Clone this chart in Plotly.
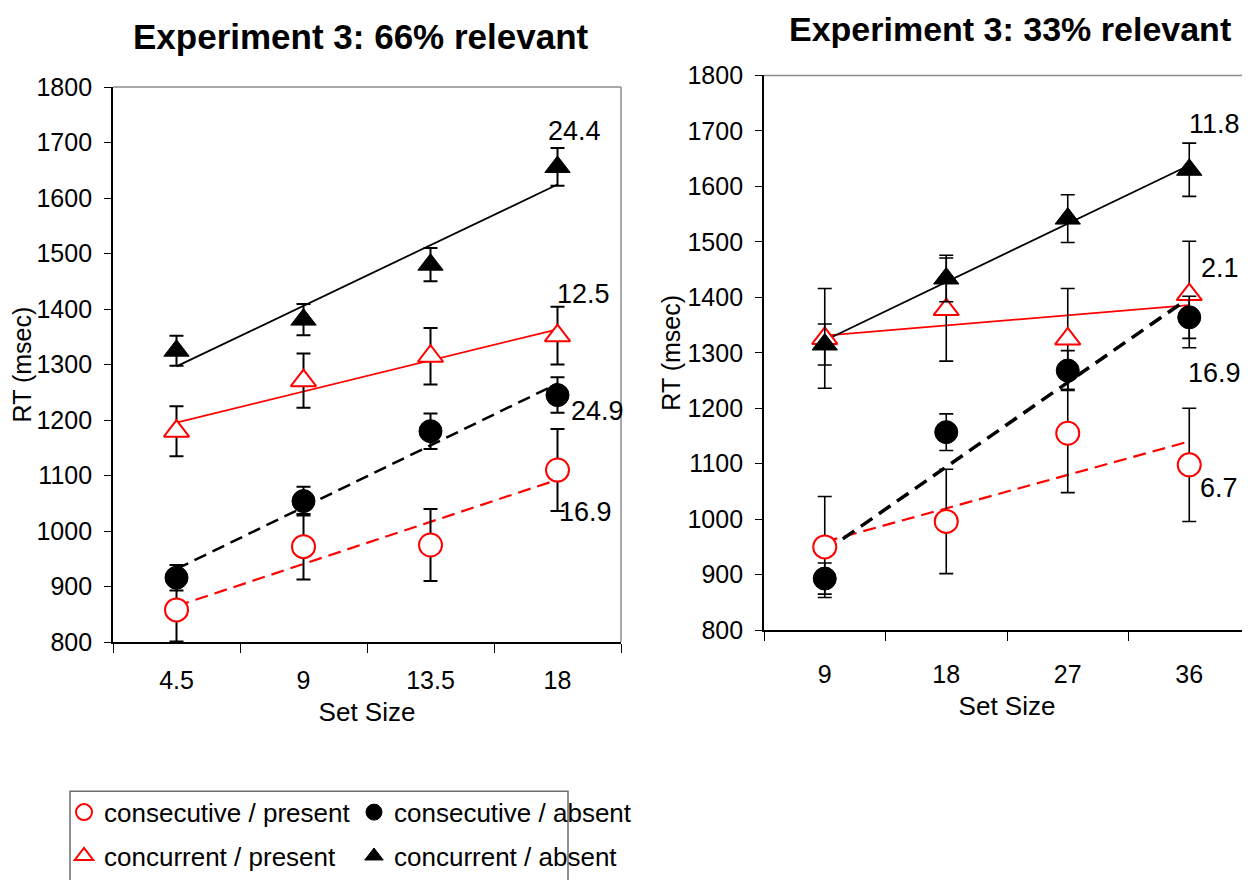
import numpy as np
import plotly.graph_objects as go

# ---------------- data ----------------
series_names = ["consecutive / present", "concurrent / present",
                "consecutive / absent", "concurrent / absent"]

# Experiment 3: 66% relevant
left_sizes = ["4.5", "9", "13.5", "18"]
left_size_values = [4.5, 9, 13.5, 18]
left_cons_present = [858, 972, 975, 1110]
left_cons_present_err = [57, 59, 65, 74]
left_conc_present = [1180, 1271, 1315, 1352]
left_conc_present_err = [45, 49, 51, 52]
left_cons_absent = [916, 1054, 1180, 1245]
left_cons_absent_err = [23, 26, 32, 32]
left_conc_absent = [1325, 1381, 1480, 1656]
left_conc_absent_err = [27, 28, 30, 34]
left_slope_labels = ["16.9", "12.5", "24.9", "24.4"]

# Experiment 3: 33% relevant
right_sizes = ["9", "18", "27", "36"]
right_size_values = [9, 18, 27, 36]
right_cons_present = [950, 996, 1155, 1098]
right_cons_present_err = [91, 94, 107, 102]
right_conc_present = [1326, 1378, 1325, 1405]
right_conc_present_err = [90, 93, 91, 96]
right_cons_absent = [893, 1157, 1268, 1364]
right_cons_absent_err = [28, 33, 36, 38]
right_conc_absent = [1315, 1434, 1542, 1630]
right_conc_absent_err = [37, 42, 43, 48]
right_slope_labels = ["6.7", "2.1", "16.9", "11.8"]

y_ticks = [800, 900, 1000, 1100, 1200, 1300, 1400, 1500, 1600, 1700, 1800]

# ---------------- styles / geometry ----------------
FONT = "Liberation Sans, Arial, sans-serif"
RED = "#FF0000"
PAGE_MARGIN = 8            # default body margin of the html page
W, H = 1250 - PAGE_MARGIN, 880 - PAGE_MARGIN


def px(x):   # page x pixel -> paper fraction
    return (x - PAGE_MARGIN) / W


def py(y):   # page y pixel -> paper fraction
    return 1 - (y - PAGE_MARGIN) / H


marker_styles = [
    dict(symbol="circle", size=23, color="white", line=dict(color=RED, width=2)),
    dict(symbol="triangle-up", size=22, color="white", line=dict(color=RED, width=2)),
    dict(symbol="circle", size=23, color="black", line=dict(color="black", width=1)),
    dict(symbol="triangle-up", size=22, color="black", line=dict(color="black", width=1)),
]
legend_ids = ["legend", "legend2", "legend", "legend2"]

panels = [
    dict(xa="x", ya="y", cats=left_sizes, vals=left_size_values,
         ys=[left_cons_present, left_conc_present, left_cons_absent, left_conc_absent],
         errs=[left_cons_present_err, left_conc_present_err, left_cons_absent_err, left_conc_absent_err],
         lines=[dict(color=RED, width=2.2, dash="13px,7px"),
                dict(color=RED, width=1.8),
                dict(color="black", width=2.5, dash="13px,7px"),
                dict(color="black", width=1.8)],
         err_thick=2, labels=left_slope_labels,
         label_pos=[(1035, 28), (1427, 26), (1217, 40), (1720, 17)],
         showlegend=True),
    dict(xa="x2", ya="y2", cats=right_sizes, vals=right_size_values,
         ys=[right_cons_present, right_conc_present, right_cons_absent, right_conc_absent],
         errs=[right_cons_present_err, right_conc_present_err, right_cons_absent_err, right_conc_absent_err],
         lines=[dict(color=RED, width=2.2, dash="13px,7px"),
                dict(color=RED, width=1.8),
                dict(color="black", width=3.5, dash="14px,8px"),
                dict(color="black", width=1.8)],
         err_thick=1.6, labels=right_slope_labels,
         label_pos=[(1056, 30), (1452, 31), (1264, 25), (1713, 25)],
         showlegend=False),
]

fig = go.Figure()
annotations = []

for p in panels:
    # linear trend lines (least-squares fit on numeric set size)
    for ys, ln in zip(p["ys"], p["lines"]):
        slope, icpt = np.polyfit(p["vals"], ys, 1)
        fit = [icpt + slope * p["vals"][0], icpt + slope * p["vals"][-1]]
        fig.add_trace(go.Scatter(x=[p["cats"][0], p["cats"][-1]], y=fit, mode="lines",
                                 line=ln, xaxis=p["xa"], yaxis=p["ya"],
                                 showlegend=False, hoverinfo="skip", cliponaxis=False))
    # data points with error bars
    for name, ys, es, ms, lg in zip(series_names, p["ys"], p["errs"], marker_styles, legend_ids):
        fig.add_trace(go.Scatter(
            x=p["cats"], y=ys, mode="markers", name=name, marker=ms,
            error_y=dict(type="data", array=es, visible=True, color="black",
                         thickness=p["err_thick"], width=7),
            xaxis=p["xa"], yaxis=p["ya"], showlegend=p["showlegend"], legend=lg,
            cliponaxis=False))
    # slope labels next to the largest set size (category index of last category)
    last_idx = len(p["cats"]) - 1
    for txt, (yv, xs) in zip(p["labels"], p["label_pos"]):
        annotations.append(dict(x=last_idx, y=yv, xref=p["xa"], yref=p["ya"],
                                text=txt, showarrow=False, xshift=xs,
                                xanchor="center", yanchor="middle",
                                font=dict(size=27, color="black", family=FONT)))

# titles
annotations.append(dict(x=px(361), y=py(37), xref="paper", yref="paper",
                        text="<b>Experiment 3: 66% relevant</b>", showarrow=False,
                        xanchor="center", yanchor="middle",
                        font=dict(size=35, color="black", family=FONT)))
annotations.append(dict(x=px(1010), y=py(29), xref="paper", yref="paper",
                        text="<b>Experiment 3: 33% relevant</b>", showarrow=False,
                        xanchor="center", yanchor="middle",
                        font=dict(size=34, color="black", family=FONT)))

axis_font = dict(size=25, color="black", family=FONT)
title_font = dict(size=26, color="black", family=FONT)


def xaxis_cfg(domain, cats, anchor, label_off, title_off):
    return dict(domain=domain, anchor=anchor, type="category", categoryorder="array",
                categoryarray=cats, range=[-0.5, 3.5], showline=True, linecolor="black",
                linewidth=1.8, ticks="outside", tickson="boundaries", ticklen=9,
                tickwidth=1.2, tickcolor="black", tickfont=axis_font, showgrid=False,
                zeroline=False, ticklabelstandoff=label_off,
                title=dict(text="Set Size", font=title_font, standoff=title_off),
                automargin=False, fixedrange=True)


def yaxis_cfg(domain, anchor):
    return dict(domain=domain, anchor=anchor, range=[800, 1800], tickvals=y_ticks,
                showline=True, linecolor="black", linewidth=1.8,
                ticks="outside", ticklen=7, tickwidth=1.2, tickcolor="black",
                tickfont=axis_font, showgrid=False, zeroline=False,
                ticklabelstandoff=7,
                title=dict(text="RT (msec)", font=dict(size=25, color="black", family=FONT),
                           standoff=0),
                automargin=False, fixedrange=True)


legend_common = dict(orientation="h", xanchor="left", yanchor="middle",
                     bgcolor="rgba(0,0,0,0)", borderwidth=0, entrywidth=245,
                     font=dict(size=26, color="black", family=FONT), itemwidth=30)

fig.update_layout(
    width=W, height=H, margin=dict(l=0, r=0, t=0, b=0),
    paper_bgcolor="white", plot_bgcolor="white",
    font=dict(family=FONT, color="black"),
    xaxis=xaxis_cfg([px(113), px(621)], left_sizes, "y", 15, 10),
    yaxis=yaxis_cfg([py(644.3), py(87.3)], "x"),
    xaxis2=xaxis_cfg([px(764), 1.0], right_sizes, "y2", 21, 10),
    yaxis2=yaxis_cfg([py(632.3), py(75.7)], "x2"),
    annotations=annotations,
    legend=legend_common | dict(x=px(64), y=py(815)),
    legend2=legend_common | dict(x=px(64), y=py(859)),
    shapes=[
        # grey plot-area borders (top & right)
        dict(type="line", xref="x domain", yref="y domain", x0=0, x1=1, y0=1, y1=1,
             line=dict(color="#8c8c8c", width=1.5), layer="below"),
        dict(type="line", xref="x domain", yref="y domain", x0=1, x1=1, y0=0, y1=1,
             line=dict(color="#8c8c8c", width=1.5), layer="below"),
        dict(type="line", xref="x2 domain", yref="y2 domain", x0=0, x1=1, y0=1, y1=1,
             line=dict(color="#8c8c8c", width=1.5), layer="below"),
        # legend box
        dict(type="rect", xref="paper", yref="paper", x0=px(70), x1=px(568),
             y0=py(794), y1=-0.05, line=dict(color="#6e6e6e", width=1.5)),
    ],
)

fig.write_html("out.html")
